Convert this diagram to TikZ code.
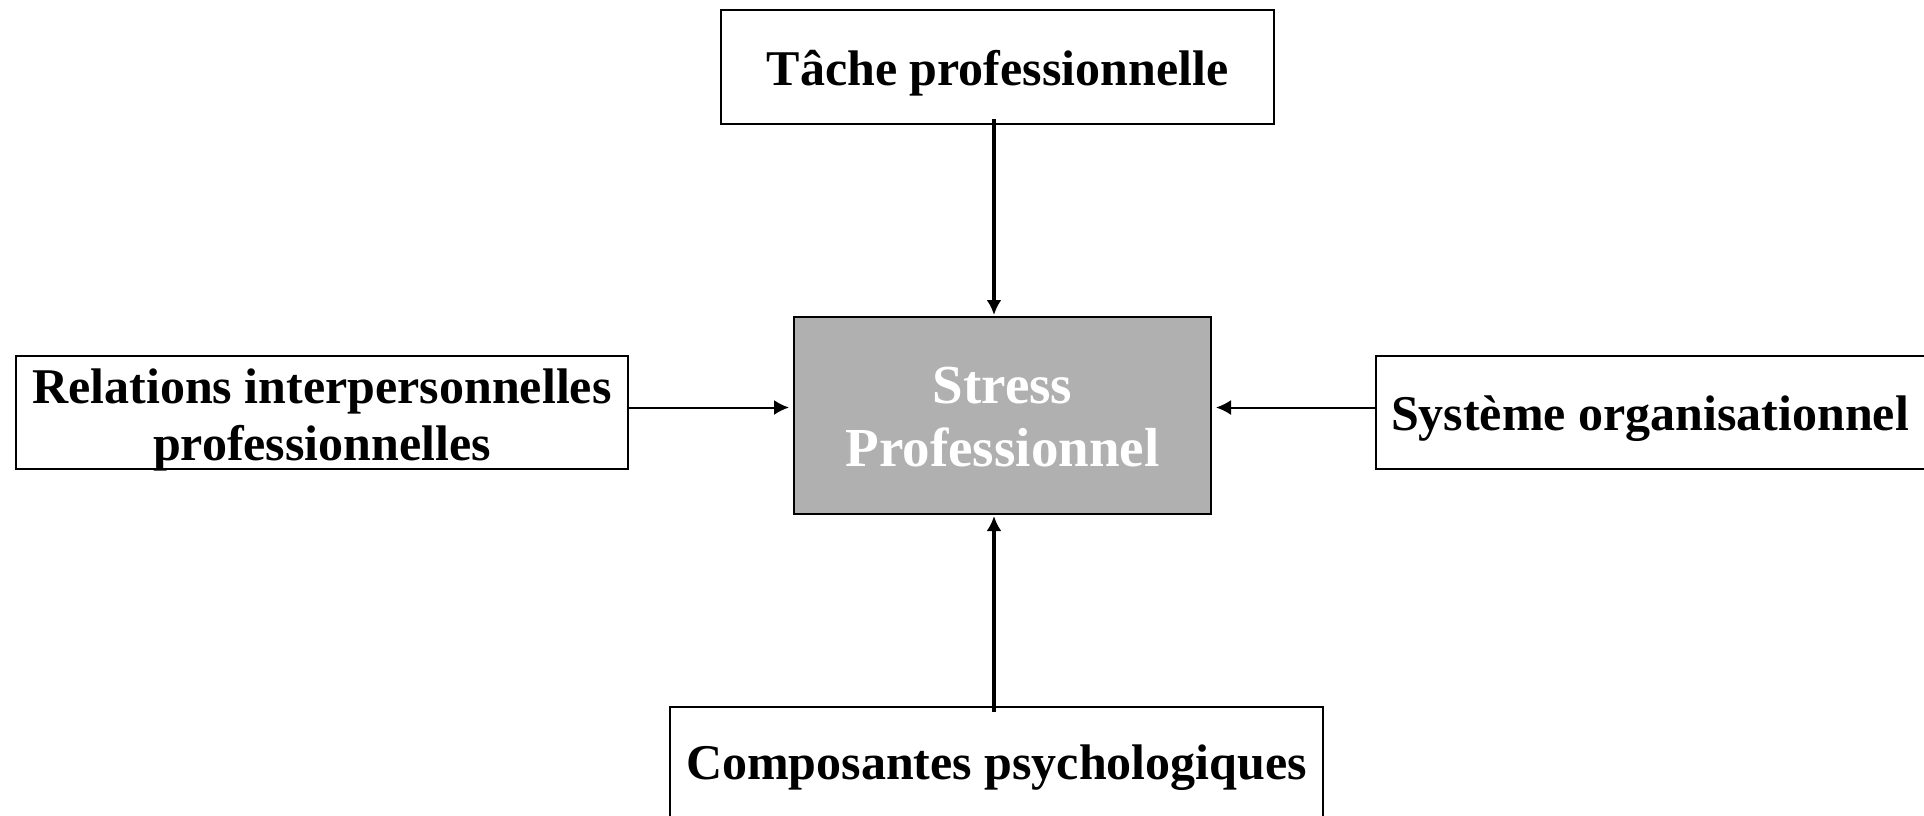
\documentclass[tikz,border=0pt]{standalone}
\usepackage{fontspec}
\setmainfont{Liberation Serif}
\usetikzlibrary{arrows.meta}
\definecolor{stressgray}{HTML}{B0B0B0}
\tikzset{>={Latex[length=7.5pt,width=7.5pt]}}
\tikzset{
  factor/.style={draw, line width=1pt, align=center, inner sep=0pt,
    font=\bfseries\fontsize{25}{28.7}\selectfont},
  stressbox/.style={draw, line width=1pt, fill=stressgray, text=white, align=center,
    inner sep=0pt, font=\bfseries\fontsize{27.5}{31.7}\selectfont},
  link/.style={->, line width=1pt, shorten >=2pt},
  vlink/.style={->, line width=1.8pt, shorten >=0.5pt}
}

\begin{document}
\begin{tikzpicture}[x=0.5pt, y=-0.5pt]
    \useasboundingbox (0,0) rectangle (1924,815);

    \node[stressbox, minimum width=208.5pt, minimum height=98.5pt, text height=51.2pt, text depth=0pt] (stress) at (1002.5,415.5) {Stress\\Professionnel};

    \node[factor, minimum width=276.5pt, minimum height=57pt, text height=24pt, text depth=5.4pt] (tache) at (997.5,67) {Tâche professionnelle};
    \node[factor, minimum width=306pt, minimum height=56.5pt, text height=48.4pt, text depth=0pt] (relations) at (322,412.5) {Relations interpersonnelles\\professionnelles};
    \node[factor, anchor=west, minimum height=56.5pt, text height=23pt, text depth=5.4pt, inner xsep=7.5pt] (systeme) at (1375,412.5) {Système organisationnel\hspace{30pt}};
    \node[factor, anchor=north, minimum width=326.5pt, text height=17pt, text depth=5pt, inner ysep=19pt] (composantes) at (996.5,706) {Composantes psychologiques};

    \draw[vlink] ([xshift=-1.75pt, yshift=3pt]tache.south) -- ([xshift=-1.75pt]tache.south |- stress.north);
    \draw[vlink] ([xshift=-1.25pt, yshift=-3pt]composantes.north) -- ([xshift=-1.25pt]composantes.north |- stress.south);
    \draw[link] ([yshift=2.5pt]relations.east) -- ([yshift=2.5pt]relations.east -| stress.west);
    \draw[link] ([yshift=2.5pt]systeme.west) -- ([yshift=2.5pt]systeme.west -| stress.east);

\end{tikzpicture}
\end{document}
